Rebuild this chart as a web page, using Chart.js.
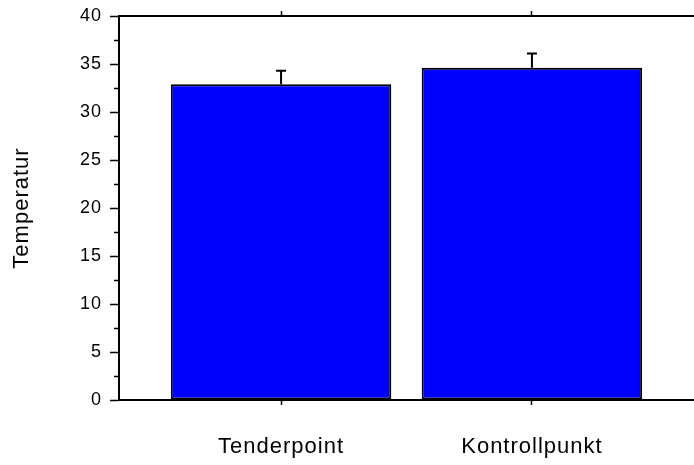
<!DOCTYPE html>
<html>
<head>
<meta charset="utf-8">
<script src="https://cdn.jsdelivr.net/npm/chart.js@4/dist/chart.umd.min.js"></script>
<style>
  html, body { margin: 0; padding: 0; background: #fff; }
  #wrap { width: 694px; height: 465px; position: relative; }
</style>
</head>
<body>
<div id="wrap"><canvas id="c" width="694" height="465"></canvas></div>
<script>
// Measured temperatures per site, with the standard deviation drawn as an upper whisker
const categories = ['Tenderpoint', 'Kontrollpunkt'];
const means = [32.9, 34.6];
const errors = [1.4, 1.5];
const yTicks = [0, 5, 10, 15, 20, 25, 30, 35, 40];
const yMinorTicks = [2.5, 7.5, 12.5, 17.5, 22.5, 27.5, 32.5, 37.5];

const FONT = "'Liberation Sans', Arial, Helvetica, sans-serif";

function categoryTicks(scale) {
  scale.ticks = categories.map((_, i) => ({ value: i + 1 }));
}

// Slightly loose text tracking for all labels
const tracking = {
  id: 'tracking',
  beforeLayout(chart) { chart.ctx.letterSpacing = '1px'; },
  beforeDraw(chart) { chart.ctx.letterSpacing = '1px'; }
};

// Upper error whiskers with a cap
const errorBars = {
  id: 'errorBars',
  afterDatasetsDraw(chart) {
    const meta = chart.getDatasetMeta(0);
    const y = chart.scales.y;
    const ctx = chart.ctx;
    ctx.save();
    ctx.strokeStyle = '#000';
    ctx.lineWidth = 2;
    meta.data.forEach((bar, i) => {
      const top = y.getPixelForValue(means[i]);
      const end = y.getPixelForValue(means[i] + errors[i]);
      ctx.beginPath();
      ctx.moveTo(bar.x, top);
      ctx.lineTo(bar.x, end);
      ctx.moveTo(bar.x - 5, end);
      ctx.lineTo(bar.x + 5, end);
      ctx.stroke();
    });
    ctx.restore();
  }
};

// Short minor tick marks on the value axis
const minorTicks = {
  id: 'minorTicks',
  afterDraw(chart) {
    const y = chart.scales.y;
    const ctx = chart.ctx;
    const x0 = chart.chartArea.left;
    ctx.save();
    ctx.strokeStyle = '#000';
    ctx.lineWidth = 1.5;
    yMinorTicks.forEach(v => {
      const py = Math.round(y.getPixelForValue(v)) + 0.5;
      ctx.beginPath();
      ctx.moveTo(x0 - 5, py);
      ctx.lineTo(x0, py);
      ctx.stroke();
    });
    ctx.restore();
  }
};

new Chart(document.getElementById('c'), {
  type: 'bar',
  data: {
    datasets: [{
      data: means.map((v, i) => ({ x: i + 1, y: v })),
      backgroundColor: '#0000ff',
      borderColor: '#000',
      borderWidth: 2,
      borderSkipped: false,
      categoryPercentage: 1,
      barPercentage: 0.879
    }]
  },
  options: {
    responsive: false,
    animation: false,
    layout: { padding: { top: 11, right: 0, bottom: 0, left: 0 } },
    plugins: { legend: { display: false }, tooltip: { enabled: false } },
    scales: {
      x: {
        type: 'linear',
        position: 'bottom',
        min: 0.354,
        max: 2.646,
        offset: false,
        afterBuildTicks: categoryTicks,
        afterFit(scale) { scale.height = 65; scale.paddingLeft = 0; scale.paddingRight = 0; },
        ticks: {
          callback: v => categories[v - 1],
          font: { family: FONT, size: 22 },
          color: '#000',
          padding: 29,
          maxRotation: 0,
          autoSkip: false
        },
        grid: { offset: false, drawOnChartArea: false, drawTicks: true, tickLength: 5, tickWidth: 1.5, tickColor: '#000' },
        border: { display: true, color: '#000', width: 2 }
      },
      x2: {
        type: 'linear',
        position: 'top',
        min: 0.354,
        max: 2.646,
        offset: false,
        afterBuildTicks: categoryTicks,
        afterFit(scale) { scale.height = 5; scale.paddingLeft = 0; scale.paddingRight = 0; },
        ticks: { display: false },
        grid: { offset: false, drawOnChartArea: false, drawTicks: true, tickLength: 5, tickWidth: 1.5, tickColor: '#000' },
        border: { display: true, color: '#000', width: 2 }
      },
      y: {
        min: 0,
        max: 40,
        afterBuildTicks(scale) { scale.ticks = yTicks.map(v => ({ value: v })); },
        afterFit(scale) { scale.width = 119; scale.paddingTop = 0; scale.paddingBottom = 0; },
        ticks: {
          font: { family: FONT, size: 18 },
          color: '#000',
          padding: 8
        },
        grid: { drawOnChartArea: false, drawTicks: true, tickLength: 9, tickWidth: 1.5, tickColor: '#000' },
        border: { display: true, color: '#000', width: 2 },
        title: {
          display: true,
          text: 'Temperatur',
          font: { family: FONT, size: 22 },
          color: '#000',
          padding: { top: 9, bottom: 0 }
        }
      }
    }
  },
  plugins: [tracking, errorBars, minorTicks]
});
</script>
</body>
</html>
